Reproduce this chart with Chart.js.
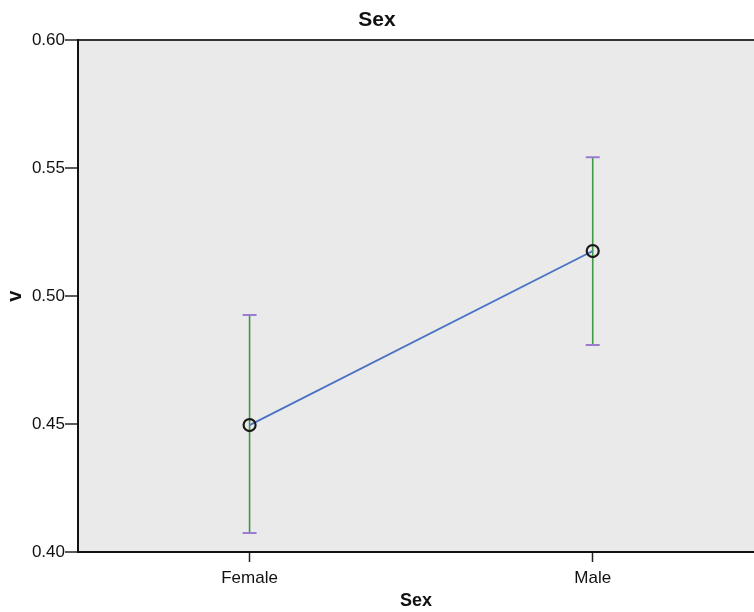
<!DOCTYPE html>
<html>
<head>
<meta charset="utf-8">
<script src="https://cdn.jsdelivr.net/npm/chart.js@4/dist/chart.umd.min.js"></script>
<style>
  html, body { margin: 0; padding: 0; background: #ffffff; }
  #wrap { width: 754px; height: 612px; }
</style>
</head>
<body>
<div id="wrap"><canvas id="c" width="754" height="612"></canvas></div>
<script>
const categories = ['Female', 'Male'];
const means = [0.4496, 0.5176];
const lowerCI = [0.4074, 0.4809];
const upperCI = [0.4926, 0.5543];
const yTicks = [0.40, 0.45, 0.50, 0.55, 0.60];
const chartTitle = 'Sex';
const xTitle = 'Sex';
const yTitle = 'v';

const FONT = "'Liberation Sans', Arial, sans-serif";

const plotBg = {
  id: 'plotBg',
  beforeDraw(chart) {
    const a = chart.chartArea, ctx = chart.ctx;
    ctx.save();
    ctx.fillStyle = '#eaeaea';
    ctx.fillRect(a.left, a.top, a.right - a.left, a.bottom - a.top);
    ctx.restore();
  }
};

const errorBars = {
  id: 'errorBars',
  beforeDatasetsDraw(chart) {
    const xs = chart.scales.x, ys = chart.scales.y, ctx = chart.ctx;
    ctx.save();
    categories.forEach((c, i) => {
      const x = xs.getPixelForValue(i);
      const yl = ys.getPixelForValue(lowerCI[i]);
      const yu = ys.getPixelForValue(upperCI[i]);
      ctx.strokeStyle = '#3f9a3f';
      ctx.lineWidth = 1.6;
      ctx.beginPath();
      ctx.moveTo(x, yl); ctx.lineTo(x, yu);
      ctx.stroke();
      ctx.strokeStyle = '#9b7cd0';
      ctx.lineWidth = 2;
      ctx.beginPath();
      ctx.moveTo(x - 7, yl); ctx.lineTo(x + 7, yl);
      ctx.moveTo(x - 7, yu); ctx.lineTo(x + 7, yu);
      ctx.stroke();
    });
    ctx.restore();
  }
};

new Chart(document.getElementById('c'), {
  type: 'line',
  data: {
    datasets: [{
      data: categories.map((c, i) => ({ x: i, y: means[i] })),
      borderColor: '#4a72c4',
      borderWidth: 1.8,
      pointRadius: 6,
      pointBorderWidth: 2.2,
      pointBorderColor: '#1a1a1a',
      pointBackgroundColor: 'rgba(0,0,0,0)',
      fill: false,
      tension: 0
    }]
  },
  options: {
    responsive: false,
    animation: false,
    layout: { autoPadding: false, padding: { left: 0, right: 0, top: 0, bottom: 0 } },
    plugins: {
      legend: { display: false },
      tooltip: { enabled: false },
      title: {
        display: true,
        text: chartTitle,
        color: '#111',
        font: { family: FONT, size: 21, weight: 'bold' },
        padding: { top: 8, bottom: 7 }
      }
    },
    scales: {
      x: {
        type: 'linear',
        min: -0.5,
        max: 1.47,
        afterBuildTicks(scale) { scale.ticks = categories.map((c, i) => ({ value: i })); },
        afterFit(scale) { scale.height = 60; },
        ticks: {
          autoSkip: false,
          color: '#111',
          font: { family: FONT, size: 17 },
          padding: 6,
          maxRotation: 0,
          callback: (v) => categories[v] ?? ''
        },
        grid: {
          drawOnChartArea: false,
          drawTicks: true,
          tickLength: 10,
          tickColor: '#222',
          tickWidth: 1.5
        },
        border: { display: true, color: '#111', width: 2 },
        title: {
          display: true,
          text: xTitle,
          color: '#111',
          font: { family: FONT, size: 18, weight: 'bold' },
          padding: { top: 0, bottom: 0 }
        }
      },
      y: {
        min: 0.4,
        max: 0.6,
        afterBuildTicks(scale) { scale.ticks = yTicks.map(v => ({ value: v })); },
        afterFit(scale) { scale.width = 78; },
        ticks: {
          color: '#111',
          font: { family: FONT, size: 17 },
          padding: 0,
          callback: (v) => Number(v).toFixed(2)
        },
        grid: {
          drawOnChartArea: true,
          color: (ctx) => (ctx.tick && Math.abs(ctx.tick.value - 0.6) < 1e-9) ? '#333' : 'rgba(0,0,0,0)',
          lineWidth: 2,
          drawTicks: true,
          tickLength: 13,
          tickColor: '#222',
          tickWidth: 1.5
        },
        border: { display: true, color: '#111', width: 2 },
        title: {
          display: true,
          text: yTitle,
          color: '#111',
          font: { family: FONT, size: 20, weight: 'bold' },
          padding: { top: 3, bottom: 0 }
        }
      }
    }
  },
  plugins: [plotBg, errorBars]
});
</script>
</body>
</html>
